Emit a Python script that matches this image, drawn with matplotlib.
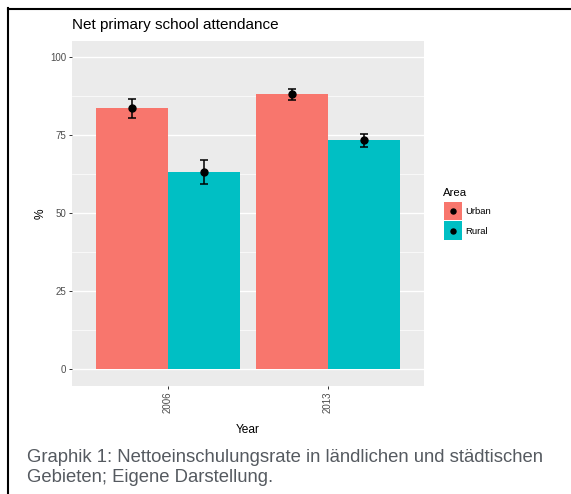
import matplotlib
matplotlib.use("Agg")
import matplotlib.pyplot as plt
import numpy as np
from matplotlib.patches import Rectangle
from matplotlib.lines import Line2D

plt.rcParams['font.family'] = ['Liberation Sans', 'DejaVu Sans']

years = ["2006", "2013"]
areas = ["Urban", "Rural"]
urban_vals = [83.5, 88.0]
rural_vals = [63.0, 73.3]
urban_lo = [80.5, 86.1]
urban_hi = [86.6, 89.7]
rural_lo = [59.3, 71.2]
rural_hi = [67.0, 75.2]
colors = ["#F8766D", "#00BFC4"]
yticks = [0, 25, 50, 75, 100]

W, H = 571, 494
fig = plt.figure(figsize=(W/100, H/100), dpi=100)
ax = fig.add_axes([72/W, 1-386/H, 352/W, 345/H])
ax.set_facecolor("#EBEBEB")

x = np.arange(1, len(years)+1)
bw = 0.45
series = [(urban_vals, urban_lo, urban_hi), (rural_vals, rural_lo, rural_hi)]
for i, (vals, lo, hi) in enumerate(series):
    xs = x + (i - 0.5) * bw
    ax.bar(xs, vals, width=bw, color=colors[i], zorder=2)
    vals_a = np.array(vals); lo_a = np.array(lo); hi_a = np.array(hi)
    ax.errorbar(xs, vals_a, yerr=[vals_a - lo_a, hi_a - vals_a], fmt='o', color='black',
                markersize=5, elinewidth=1.1, capsize=2.8, capthick=1.1, zorder=3)

ax.set_xlim(0.4, 2.6)
ax.set_ylim(-5.3, 105)
ax.set_yticks(yticks)
ax.set_yticklabels([str(t) for t in yticks])
ax.set_yticks([12.5, 37.5, 62.5, 87.5], minor=True)
ax.set_xticks(x)
ax.set_xticklabels(years, rotation=90)
ax.grid(axis='y', which='major', color='white', linewidth=1.0, zorder=0)
ax.grid(axis='y', which='minor', color='white', linewidth=0.5, zorder=0)
ax.set_axisbelow(True)
for s in ax.spines.values():
    s.set_visible(False)
ax.tick_params(axis='both', which='major', length=2.5, width=0.7, color='#333333',
               labelsize=7, labelcolor='#4D4D4D', pad=1.5)
ax.tick_params(axis='both', which='minor', length=0)

ax.set_xlabel("Year", fontsize=8.6, color='black', labelpad=8)
ax.set_ylabel("%", fontsize=8.6, color='black', labelpad=3)

fig.text(72/W, 1-25/H, "Net primary school attendance", fontsize=11, va='center', ha='left')

# legend (drawn in figure pixel coordinates)
def fx(px):
    return px / W
def fy(py):
    return 1 - py / H

fig.text(fx(442.5), fy(192.5), "Area", fontsize=8.2, va='center', ha='left')
key_tops = [201.7, 221.5]
for c, lab, top in zip(colors, areas, key_tops):
    fig.add_artist(Rectangle((fx(443.5), fy(top + 18.5)), 18.3 / W, 18.5 / H,
                             facecolor=c, edgecolor='none', transform=fig.transFigure))
    cy = top + 9.5
    fig.add_artist(Line2D([fx(453)], [fy(cy)], marker='o', markersize=3.6, color='black',
                          linestyle='none', transform=fig.transFigure))
    fig.text(fx(465.5), fy(cy), lab, fontsize=6.8, va='center', ha='left')

cap_color = '#555A60'
fig.text(27/W, 1-457/H, "Graphik 1: Nettoeinschulungsrate in ländlichen und städtischen",
         fontsize=13.3, color=cap_color, va='center', ha='left')
fig.text(27/W, 1-477/H, "Gebieten; Eigene Darstellung.",
         fontsize=13.3, color=cap_color, va='center', ha='left')

fig.add_artist(Line2D([8.3/W, 8.3/W], [0, 1-8/H], color='black', linewidth=1.5,
                      transform=fig.transFigure))
fig.add_artist(Line2D([7.5/W, 1], [1-9/H, 1-9/H], color='black', linewidth=1.5,
                      transform=fig.transFigure))

fig.savefig("out.png", dpi=100)
